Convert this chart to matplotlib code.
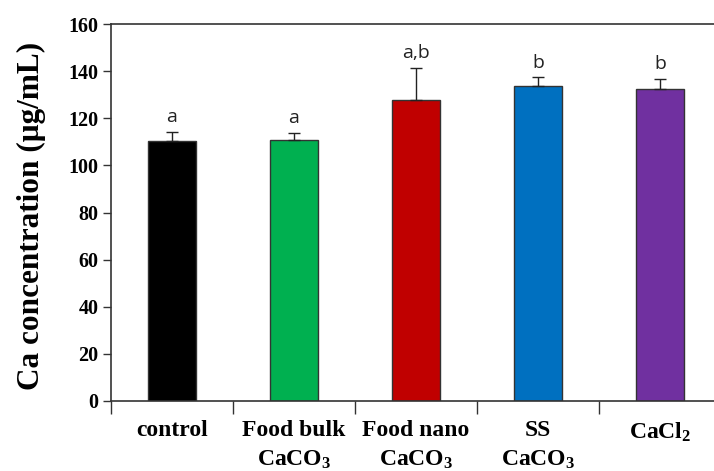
import matplotlib
matplotlib.use("Agg")
import matplotlib.pyplot as plt
import numpy as np

plt.rcParams['font.family'] = ['Liberation Serif', 'DejaVu Serif']
plt.rcParams['mathtext.default'] = 'regular'

categories = ["control", "Food bulk\nCaCO$_3$", "Food nano\nCaCO$_3$", "SS\nCaCO$_3$", "CaCl$_2$"]
means = [110.3, 110.8, 127.8, 133.7, 132.4]
errors = [4.0, 3.1, 13.7, 3.7, 4.3]
letters = ["a", "a", "a,b", "b", "b"]
colors = ["#000000", "#00B050", "#C00000", "#0070C0", "#7030A0"]
yticks = [0, 20, 40, 60, 80, 100, 120, 140, 160]

fig = plt.figure(figsize=(7.14, 4.71), dpi=100)
ax = fig.add_axes([111 / 714, 1 - 401 / 471, 610 / 714, 377 / 471])

x = np.arange(len(categories)) + 0.5
ax.bar(x, means, width=0.4, color=colors, edgecolor="#333333", linewidth=1.0, zorder=2)
ax.errorbar(x, means, yerr=[np.zeros(len(errors)), errors], fmt="none",
            ecolor="#222222", elinewidth=1.0, capsize=4, capthick=1.0, zorder=3)

for xi, m, e, t in zip(x, means, errors, letters):
    ax.annotate(t, (xi, m + e), xytext=(0, 4), textcoords="offset points",
                ha="center", va="bottom", fontsize=14, family=["Open Sans", "DejaVu Sans"],
                color="#222222")

ax.set_xlim(0, len(categories))
ax.set_ylim(0, 160)
ax.set_yticks(yticks)
ax.set_yticklabels([str(v) for v in yticks], fontsize=14.5, fontweight="bold")
ax.tick_params(axis="y", direction="out", length=6, width=1.0, color="#333333", pad=3)

ax.set_xticks(x)
ax.set_xticklabels(categories, fontsize=17, fontweight="bold", linespacing=1.45)
ax.tick_params(axis="x", which="major", length=0, pad=14)
ax.set_xticks(np.arange(len(categories) + 1), minor=True)
ax.tick_params(axis="x", which="minor", direction="out", length=9, width=1.0, color="#333333")

for side in ["left", "bottom", "top"]:
    ax.spines[side].set_color("#333333")
    ax.spines[side].set_linewidth(1.2)
ax.spines["right"].set_visible(False)

ax.set_ylabel("Ca concentration (μg/mL)", fontsize=22.5, fontweight="bold")
ax.yaxis.set_label_coords(-0.106, 0.49)

fig.savefig("out.png", dpi=100)
